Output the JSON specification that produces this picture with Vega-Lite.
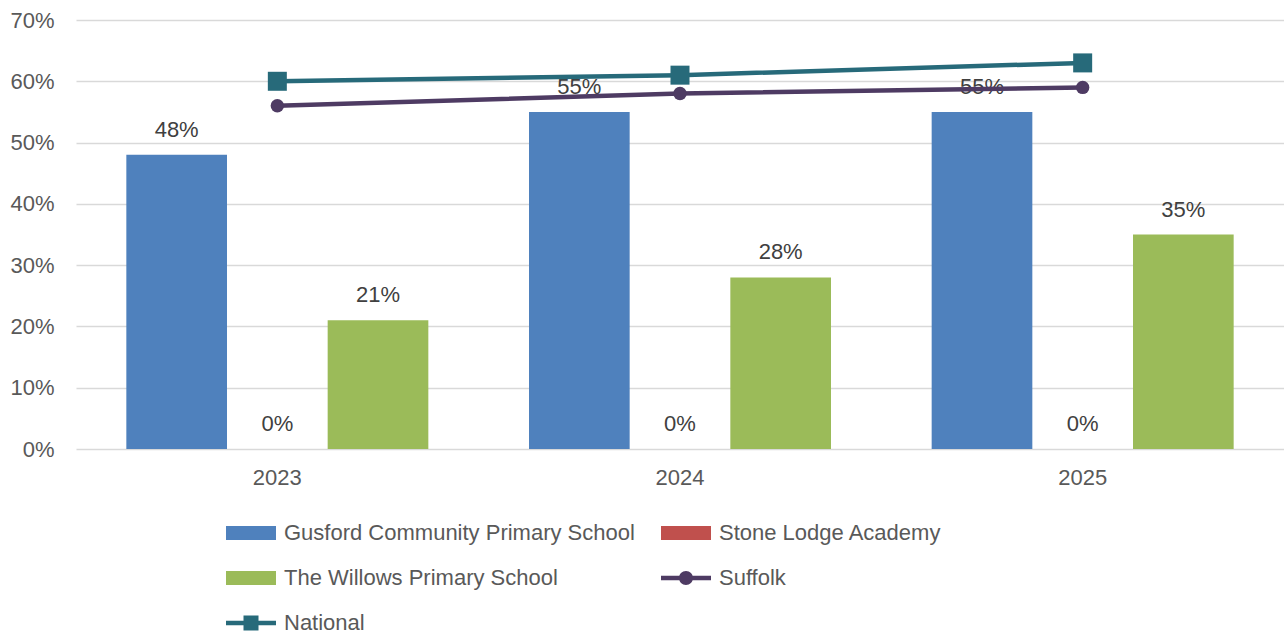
{
  "$schema": "https://vega.github.io/schema/vega-lite/v6.json",
  "width": 1208,
  "height": 429,
  "autosize": {"type": "none"},
  "padding": {"left": 76, "top": 20, "right": 0, "bottom": 188},
  "background": "white",
  "config": {
    "font": "Liberation Sans",
    "view": {"stroke": null}
  },
  "data": {
    "values": [
      {"year": "2023", "series": "Gusford Community Primary School", "value": 0.48},
      {"year": "2023", "series": "Stone Lodge Academy", "value": 0.0},
      {"year": "2023", "series": "The Willows Primary School", "value": 0.21},
      {"year": "2023", "series": "Suffolk", "value": 0.56},
      {"year": "2023", "series": "National", "value": 0.60},
      {"year": "2024", "series": "Gusford Community Primary School", "value": 0.55},
      {"year": "2024", "series": "Stone Lodge Academy", "value": 0.0},
      {"year": "2024", "series": "The Willows Primary School", "value": 0.28},
      {"year": "2024", "series": "Suffolk", "value": 0.58},
      {"year": "2024", "series": "National", "value": 0.61},
      {"year": "2025", "series": "Gusford Community Primary School", "value": 0.55},
      {"year": "2025", "series": "Stone Lodge Academy", "value": 0.0},
      {"year": "2025", "series": "The Willows Primary School", "value": 0.35},
      {"year": "2025", "series": "Suffolk", "value": 0.59},
      {"year": "2025", "series": "National", "value": 0.63}
    ]
  },
  "encoding": {
    "x": {
      "field": "year",
      "type": "nominal",
      "title": null,
      "scale": {"paddingInner": 0, "paddingOuter": 0},
      "axis": {
        "labelAngle": 0,
        "ticks": false,
        "domain": false,
        "grid": false,
        "labelFontSize": 22,
        "labelColor": "#595959",
        "labelPadding": 18
      }
    },
    "y": {
      "field": "value",
      "type": "quantitative",
      "title": null,
      "scale": {"domain": [0, 0.7], "nice": false},
      "axis": {
        "values": [0, 0.1, 0.2, 0.3, 0.4, 0.5, 0.6, 0.7],
        "format": ".0%",
        "ticks": false,
        "domain": false,
        "gridColor": "#D9D9D9",
        "gridWidth": 1.5,
        "labelFontSize": 22,
        "labelColor": "#595959",
        "labelPadding": 22
      }
    }
  },
  "layer": [
    {
      "transform": [{"filter": "datum.series !== 'Suffolk' && datum.series !== 'National'"}],
      "mark": {"type": "bar"},
      "encoding": {
        "xOffset": {
          "field": "series",
          "type": "nominal",
          "sort": ["Gusford Community Primary School", "Stone Lodge Academy", "The Willows Primary School"],
          "scale": {"paddingInner": 0, "paddingOuter": 0.5}
        },
        "color": {
          "field": "series",
          "type": "nominal",
          "scale": {
            "domain": ["Gusford Community Primary School", "Stone Lodge Academy", "The Willows Primary School", "Suffolk", "National"],
            "range": ["#4F81BD", "#C0504D", "#9BBB59", "#4E3B63", "#276A7A"]
          },
          "legend": {
            "title": null,
            "orient": "none",
            "legendX": 164,
            "legendY": 502,
            "columns": 2,
            "columnPadding": 26,
            "rowPadding": 23,
            "labelFontSize": 22,
            "labelColor": "#595959",
            "labelOffset": 22,
            "labelLimit": 500,
            "symbolSize": 400,
            "values": ["Gusford Community Primary School", "The Willows Primary School", "National", "Stone Lodge Academy", "Suffolk"],
            "encode": {
              "symbols": {
                "update": {
                  "shape": {"signal": "datum.value === 'Suffolk' ? 'M-2.5,-0.22H2.5V0.22H-2.5Z M0.7,0A0.7,0.7 0 1,1 -0.7,0A0.7,0.7 0 1,1 0.7,0Z' : datum.value === 'National' ? 'M-2.5,-0.22H2.5V0.22H-2.5Z M-0.75,-0.75H0.75V0.75H-0.75Z' : 'M-2.5,-0.7H2.5V0.7H-2.5Z'"},
                  "fill": {"scale": "color", "field": "value"},
                  "fillOpacity": {"value": 1},
                  "strokeWidth": {"value": 0},
                  "opacity": {"value": 1}
                }
              }
            }
          }
        }
      }
    },
    {
      "transform": [{"filter": "datum.series !== 'Suffolk' && datum.series !== 'National'"}],
      "mark": {"type": "text", "baseline": "bottom", "dy": -13, "fontSize": 22, "color": "#404040"},
      "encoding": {
        "xOffset": {
          "field": "series",
          "type": "nominal",
          "sort": ["Gusford Community Primary School", "Stone Lodge Academy", "The Willows Primary School"],
          "scale": {"paddingInner": 0, "paddingOuter": 0.5}
        },
        "text": {"field": "value", "type": "quantitative", "format": ".0%"}
      }
    },
    {
      "transform": [{"filter": "datum.series === 'Suffolk' || datum.series === 'National'"}],
      "mark": {"type": "line", "strokeWidth": 4.5},
      "encoding": {
        "color": {"field": "series", "type": "nominal"},
        "detail": {"field": "series"}
      }
    },
    {
      "transform": [{"filter": "datum.series === 'Suffolk' || datum.series === 'National'"}],
      "mark": {"type": "point", "filled": true, "opacity": 1},
      "encoding": {
        "color": {"field": "series", "type": "nominal"},
        "shape": {
          "field": "series",
          "type": "nominal",
          "scale": {"domain": ["Suffolk", "National"], "range": ["circle", "square"]},
          "legend": null
        },
        "size": {
          "field": "series",
          "type": "nominal",
          "scale": {"domain": ["Suffolk", "National"], "range": [180, 361]},
          "legend": null
        }
      }
    }
  ]
}
